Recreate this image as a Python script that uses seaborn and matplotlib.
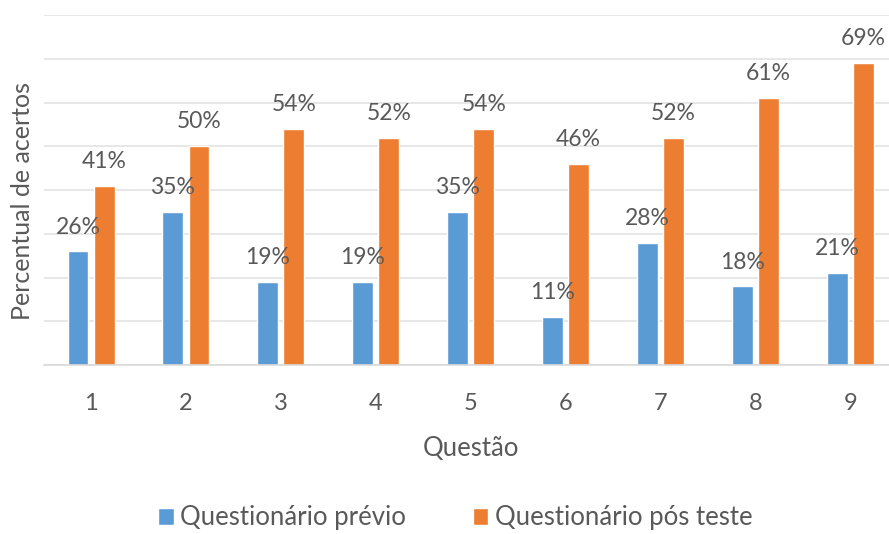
import matplotlib
matplotlib.use("Agg")
import matplotlib.pyplot as plt
import seaborn as sns
import pandas as pd

questoes = ["1", "2", "3", "4", "5", "6", "7", "8", "9"]
previo = [26, 35, 19, 19, 35, 11, 28, 18, 21]
pos_teste = [41, 50, 54, 52, 54, 46, 52, 61, 69]
series = ["Questionário prévio", "Questionário pós teste"]
cores = ["#5B9BD5", "#ED7D31"]

df = pd.DataFrame({
    "Questão": questoes * 2,
    "valor": previo + pos_teste,
    "serie": [series[0]] * len(questoes) + [series[1]] * len(questoes),
})

sns.set_theme(style="white")
plt.rcParams["font.family"] = ["Lato", "DejaVu Sans"]
texto = "#595959"

fig = plt.figure(figsize=(8.89, 5.34), dpi=100)
ax = fig.add_axes([0.049, 0.316, 0.961, 0.656])

sns.barplot(data=df, x="Questão", y="valor", hue="serie", palette=cores,
            width=0.55, gap=0.2, ax=ax, legend=True, saturation=1)

ax.set_ylim(0, 80)
ax.set_yticks(range(0, 81, 10))
ax.set_yticklabels([])
ax.yaxis.grid(True, color="#E3E3E3", linewidth=1.2)
ax.set_axisbelow(True)
for s in ["top", "right", "left"]:
    ax.spines[s].set_visible(False)
ax.spines["bottom"].set_color("#D9D9D9")
ax.spines["bottom"].set_linewidth(1.2)
ax.tick_params(axis="both", length=0)
ax.tick_params(axis="x", labelsize=17, labelcolor=texto, pad=20)

for cont in ax.containers:
    ax.bar_label(cont, labels=[f"{v:.0f}%" for v in cont.datavalues],
                 padding=10, fontsize=16.5, color=texto)

ax.set_xlabel("Questão", fontsize=18.5, color=texto, labelpad=16)
ax.set_ylabel("Percentual de acertos", fontsize=18, color=texto)
ax.yaxis.set_label_coords(-0.011, 0.47)

handles, labels = ax.get_legend_handles_labels()
ax.legend_.remove()
fig.legend(handles, labels, loc="center", bbox_to_anchor=(0.512, 0.03),
           ncol=2, frameon=False, fontsize=18.5, labelcolor=texto,
           handlelength=0.6, handleheight=0.6, handletextpad=0.25,
           columnspacing=2.6)

fig.savefig("out.png", dpi=100)
